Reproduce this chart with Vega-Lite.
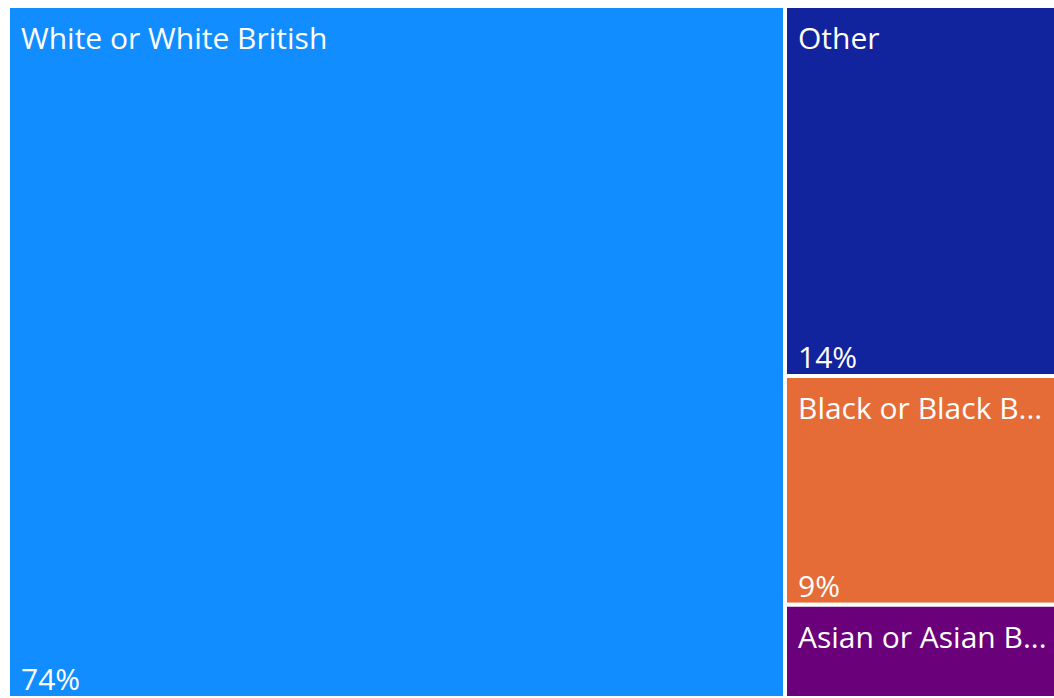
{
  "$schema": "https://vega.github.io/schema/vega-lite/v6.json",
  "width": 1050,
  "height": 692,
  "padding": {"left": 8, "top": 6, "right": 0, "bottom": 0},
  "autosize": {"type": "none"},
  "background": "white",
  "config": {"view": {"stroke": null}},
  "data": {
    "values": [
      {"category": "White or White British", "group": "A", "order": 1, "share": 0.74},
      {"category": "Other", "group": "B", "order": 2, "share": 0.139},
      {"category": "Black or Black British", "group": "B", "order": 3, "share": 0.086},
      {"category": "Asian or Asian British", "group": "B", "order": 4, "share": 0.035}
    ]
  },
  "transform": [
    {"stack": "share", "groupby": [], "sort": [{"field": "order"}], "as": ["s0", "s1"]},
    {"joinaggregate": [{"op": "min", "field": "s0", "as": "x0"}, {"op": "max", "field": "s1", "as": "x1"}], "groupby": ["group"]},
    {"stack": "share", "groupby": ["group"], "sort": [{"field": "order"}], "offset": "normalize", "as": ["y0", "y1"]}
  ],
  "encoding": {
    "x": {"field": "x0", "type": "quantitative", "scale": {"domain": [0, 1], "nice": false, "zero": false}, "axis": null}
  },
  "layer": [
    {
      "mark": {"type": "rect", "stroke": "white", "strokeWidth": 4},
      "encoding": {
        "x2": {"field": "x1"},
        "y": {"field": "y0", "type": "quantitative", "scale": {"domain": [0, 1], "nice": false, "reverse": true}, "axis": null},
        "y2": {"field": "y1"},
        "color": {
          "field": "category",
          "type": "nominal",
          "scale": {
            "domain": ["White or White British", "Other", "Black or Black British", "Asian or Asian British"],
            "range": ["#118DFF", "#12239E", "#E66C37", "#6B007B"]
          },
          "legend": null
        }
      }
    },
    {
      "mark": {"type": "text", "align": "left", "baseline": "top", "dx": 13, "dy": 19, "color": "white", "font": "Open Sans", "fontSize": 30, "ellipsis": "...", "limit": {"expr": "datum.group === 'A' ? 2000 : 256"}},
      "encoding": {
        "y": {"field": "y0", "type": "quantitative"},
        "text": {"field": "category", "type": "nominal"}
      }
    },
    {
      "transform": [{"filter": "datum.y1 - datum.y0 > 0.2"}],
      "mark": {"type": "text", "align": "left", "baseline": "alphabetic", "dx": 13, "dy": -8, "color": "white", "font": "Open Sans", "fontSize": 30},
      "encoding": {
        "y": {"field": "y1", "type": "quantitative"},
        "text": {"field": "share", "type": "quantitative", "format": ".0%"}
      }
    }
  ]
}
